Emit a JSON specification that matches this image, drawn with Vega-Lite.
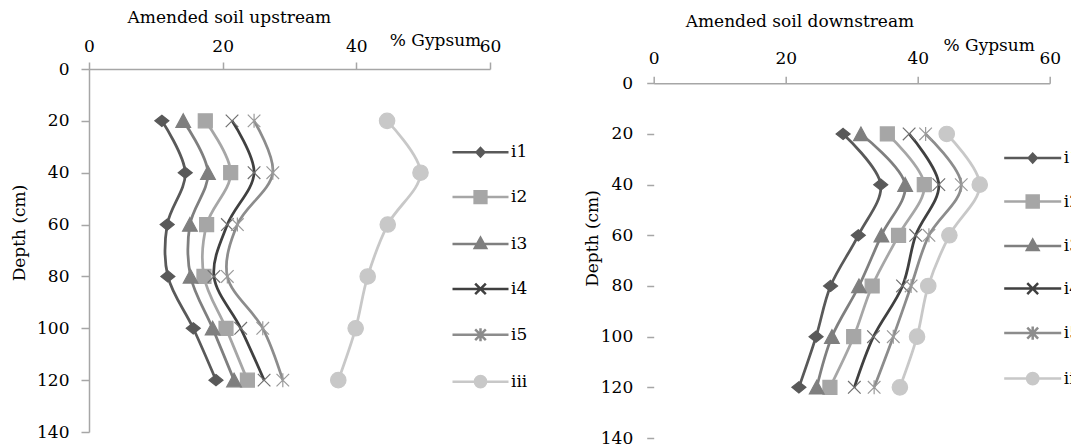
{
  "$schema": "https://vega.github.io/schema/vega-lite/v6.json",
  "background": "white",
  "padding": {"left": 10, "top": 9, "right": 0, "bottom": 0},
  "spacing": 163.7,
  "bounds": "flush",
  "config": {
    "font": "DejaVu Serif",
    "view": {"stroke": null},
    "axis": {
      "domainColor": "#a6a6a6", "domainWidth": 1.5, "tickColor": "#a6a6a6", "tickWidth": 1.5,
      "tickSize": 7, "grid": false, "labelFont": "DejaVu Serif", "labelFontSize": 17,
      "labelColor": "#000000", "titleFont": "DejaVu Serif", "titleFontSize": 17,
      "titleFontWeight": "normal", "titleColor": "#000000", "labelFlush": false, "labelOverlap": false
    },
    "title": {"font": "DejaVu Serif", "fontSize": 17, "fontWeight": "normal", "color": "#000000"},
    "legend": {"labelFont": "DejaVu Serif", "labelFontSize": 17, "labelColor": "#000000"}
  },
  "datasets": {
    "up": [
      {"series": "i1", "depth": 20, "pct": 10.9}, {"series": "i1", "depth": 40, "pct": 14.4}, {"series": "i1", "depth": 60, "pct": 11.7}, {"series": "i1", "depth": 80, "pct": 11.8}, {"series": "i1", "depth": 100, "pct": 15.6}, {"series": "i1", "depth": 120, "pct": 19.0},
      {"series": "i2", "depth": 20, "pct": 17.4}, {"series": "i2", "depth": 40, "pct": 21.2}, {"series": "i2", "depth": 60, "pct": 17.6}, {"series": "i2", "depth": 80, "pct": 17.2}, {"series": "i2", "depth": 100, "pct": 20.5}, {"series": "i2", "depth": 120, "pct": 23.7},
      {"series": "i3", "depth": 20, "pct": 14.1}, {"series": "i3", "depth": 40, "pct": 17.8}, {"series": "i3", "depth": 60, "pct": 15.1}, {"series": "i3", "depth": 80, "pct": 15.2}, {"series": "i3", "depth": 100, "pct": 18.5}, {"series": "i3", "depth": 120, "pct": 21.7},
      {"series": "i4", "depth": 20, "pct": 21.4}, {"series": "i4", "depth": 40, "pct": 24.7}, {"series": "i4", "depth": 60, "pct": 20.7}, {"series": "i4", "depth": 80, "pct": 18.7}, {"series": "i4", "depth": 100, "pct": 22.7}, {"series": "i4", "depth": 120, "pct": 26.2},
      {"series": "i5", "depth": 20, "pct": 24.7}, {"series": "i5", "depth": 40, "pct": 27.5}, {"series": "i5", "depth": 60, "pct": 22.2}, {"series": "i5", "depth": 80, "pct": 20.7}, {"series": "i5", "depth": 100, "pct": 26.0}, {"series": "i5", "depth": 120, "pct": 29.0},
      {"series": "iii", "depth": 20, "pct": 44.6}, {"series": "iii", "depth": 40, "pct": 49.6}, {"series": "iii", "depth": 60, "pct": 44.7}, {"series": "iii", "depth": 80, "pct": 41.7}, {"series": "iii", "depth": 100, "pct": 39.9}, {"series": "iii", "depth": 120, "pct": 37.3}
    ],
    "down": [
      {"series": "i1", "depth": 20, "pct": 28.7}, {"series": "i1", "depth": 40, "pct": 34.4}, {"series": "i1", "depth": 60, "pct": 31.0}, {"series": "i1", "depth": 80, "pct": 26.8}, {"series": "i1", "depth": 100, "pct": 24.6}, {"series": "i1", "depth": 120, "pct": 22.0},
      {"series": "i2", "depth": 20, "pct": 35.4}, {"series": "i2", "depth": 40, "pct": 41.0}, {"series": "i2", "depth": 60, "pct": 37.1}, {"series": "i2", "depth": 80, "pct": 33.1}, {"series": "i2", "depth": 100, "pct": 30.3}, {"series": "i2", "depth": 120, "pct": 26.7},
      {"series": "i3", "depth": 20, "pct": 31.4}, {"series": "i3", "depth": 40, "pct": 38.1}, {"series": "i3", "depth": 60, "pct": 34.5}, {"series": "i3", "depth": 80, "pct": 31.1}, {"series": "i3", "depth": 100, "pct": 27.0}, {"series": "i3", "depth": 120, "pct": 24.7},
      {"series": "i4", "depth": 20, "pct": 38.7}, {"series": "i4", "depth": 40, "pct": 43.2}, {"series": "i4", "depth": 60, "pct": 39.7}, {"series": "i4", "depth": 80, "pct": 37.7}, {"series": "i4", "depth": 100, "pct": 33.3}, {"series": "i4", "depth": 120, "pct": 30.4},
      {"series": "i5", "depth": 20, "pct": 41.2}, {"series": "i5", "depth": 40, "pct": 46.6}, {"series": "i5", "depth": 60, "pct": 41.7}, {"series": "i5", "depth": 80, "pct": 39.0}, {"series": "i5", "depth": 100, "pct": 36.3}, {"series": "i5", "depth": 120, "pct": 33.4},
      {"series": "iii", "depth": 20, "pct": 44.4}, {"series": "iii", "depth": 40, "pct": 49.4}, {"series": "iii", "depth": 60, "pct": 44.8}, {"series": "iii", "depth": 80, "pct": 41.6}, {"series": "iii", "depth": 100, "pct": 39.9}, {"series": "iii", "depth": 120, "pct": 37.3}
    ]
  },
  "hconcat": [
    {
      "width": 401,
      "height": 363,
      "data": {"name": "up"},
      "title": {"text": "Amended  soil upstream", "anchor": "start", "frame": "group", "dx": 38.5, "offset": 4},
      "encoding": {
        "x": {"field": "pct", "type": "quantitative", "scale": {"domain": [0, 60], "nice": false},
          "axis": {"orient": "top", "values": [0, 20, 40, 60], "title": "% Gypsum", "labelPadding": 7,
            "titleX": 346, "titleY": -24, "titleAlign": "center", "titleBaseline": "alphabetic"}},
        "y": {"field": "depth", "type": "quantitative", "scale": {"domain": [0, 140], "reverse": true, "nice": false},
          "axis": {"values": [0, 20, 40, 60, 80, 100, 120, 140], "title": "Depth (cm)", "tickSize": 8, "labelPadding": 12,
            "titleX": -61, "titleY": 163.5, "titleAlign": "center"}}
      },
      "layer": [
        {"mark": {"type": "line", "interpolate": "catmull-rom", "strokeWidth": 2.75},
          "encoding": {
            "order": {"field": "depth", "type": "quantitative"},
            "color": {"field": "series", "type": "nominal", "legend": null,
              "scale": {"domain": ["i1", "i2", "i3", "i4", "i5", "iii"], "range": ["#595959", "#a6a6a6", "#7f7f7f", "#404040", "#8c8c8c", "#c8c8c8"]}}
          }},
        {"mark": {"type": "point", "filled": true, "size": 196, "strokeWidth": 1.2, "opacity": 1},
          "encoding": {
            "color": {"field": "series", "type": "nominal", "legend": null,
              "scale": {"domain": ["i1", "i2", "i3", "i4", "i5", "iii"], "range": ["#595959", "#a6a6a6", "#7f7f7f", "#404040", "#8c8c8c", "#c8c8c8"]}},
            "shape": {"field": "series", "type": "nominal", "legend": null,
              "scale": {"domain": ["i1", "i2", "i3", "i4", "i5", "iii"],
                "range": ["M0,-0.8L1,0L0,0.8L-1,0Z", "M-1,-1H1V1H-1Z", "M0,-1L1.05,0.95H-1.05Z", "M-0.9,-0.9L0.9,0.9M-0.9,0.9L0.9,-0.9", "M-0.9,-0.9L0.9,0.9M-0.9,0.9L0.9,-0.9M0,-1V1", "M1.1,0A1.1,1.1,0,1,1,-1.1,0A1.1,1.1,0,1,1,1.1,0Z"]}},
            "stroke": {"field": "series", "type": "nominal", "legend": null,
              "scale": {"domain": ["i1", "i2", "i3", "i4", "i5", "iii"], "range": ["#595959", "#a6a6a6", "#7f7f7f", "#707070", "#9a9a9a", "#c8c8c8"]}}
          }},
        {"transform": [{"filter": "datum.depth < 0"}],
          "mark": {"type": "point", "filled": true, "opacity": 1},
          "encoding": {
            "color": {"field": "series", "type": "nominal",
              "scale": {"domain": ["i1", "i2", "i3", "i4", "i5", "iii"], "range": ["#595959", "#a6a6a6", "#7f7f7f", "#404040", "#8c8c8c", "#c8c8c8"]},
              "legend": {"orient": "none", "legendX": 362, "legendY": 53.7, "title": null, "symbolSize": 3136, "symbolStrokeWidth": 2.5, "labelOffset": 1, "rowPadding": 5.9, "labelFontSize": 17, "symbolOpacity": 1}},
            "stroke": {"field": "series", "type": "nominal",
              "scale": {"domain": ["i1", "i2", "i3", "i4", "i5", "iii"], "range": ["#595959", "#a6a6a6", "#7f7f7f", "#404040", "#8c8c8c", "#c8c8c8"]},
              "legend": {"orient": "none", "legendX": 362, "legendY": 53.7, "title": null, "symbolSize": 3136, "symbolStrokeWidth": 2.5, "labelOffset": 1, "rowPadding": 5.9, "labelFontSize": 17, "symbolOpacity": 1}},
            "shape": {"field": "series", "type": "nominal",
              "scale": {"domain": ["i1", "i2", "i3", "i4", "i5", "iii"],
                "range": ["M-1,0H1M0,-0.15L0.14,0L0,0.15L-0.14,0Z", "M-1,0H1M-0.21,-0.21H0.21V0.21H-0.21Z", "M-1,0H1M0,-0.22L0.2,0.14H-0.2Z", "M-1,0H1M-0.19,-0.19L0.19,0.19M-0.19,0.19L0.19,-0.19", "M-1,0H1M-0.19,-0.19L0.19,0.19M-0.19,0.19L0.19,-0.19M0,-0.23V0.23", "M-1,0H1M0.2,0A0.2,0.2,0,1,1,-0.2,0A0.2,0.2,0,1,1,0.2,0Z"]},
              "legend": {"orient": "none", "legendX": 362, "legendY": 53.7, "title": null, "symbolSize": 3136, "symbolStrokeWidth": 2.5, "labelOffset": 1, "rowPadding": 5.9, "labelFontSize": 17, "symbolOpacity": 1}}
          }}
      ],
      "resolve": {"scale": {"color": "independent", "stroke": "independent", "shape": "independent"}}
    },
    {
      "width": 396,
      "height": 369,
      "data": {"name": "down"},
      "title": {"text": "Amended  soil downstream", "anchor": "start", "frame": "group", "dx": 32, "offset": 5},
      "encoding": {
        "x": {"field": "pct", "type": "quantitative", "scale": {"domain": [0, 60], "nice": false},
          "axis": {"orient": "top", "offset": -14.3, "values": [0, 20, 40, 60], "title": "% Gypsum", "labelPadding": 9,
            "titleX": 335, "titleY": -33.3, "titleAlign": "center", "titleBaseline": "alphabetic"}},
        "y": {"field": "depth", "type": "quantitative", "scale": {"domain": [-5.64, 140], "reverse": true, "nice": false, "zero": false},
          "axis": {"values": [0, 20, 40, 60, 80, 100, 120, 140], "title": "Depth (cm)", "domain": false, "tickSize": 7, "labelPadding": 14,
            "titleX": -52.7, "titleY": 169, "titleAlign": "center"}}
      },
      "layer": [
        {"data": {"values": [{}]},
          "mark": {"type": "rule", "color": "#a6a6a6", "strokeWidth": 1.5},
          "encoding": {"x": {"datum": 0}, "y": {"datum": 0}, "y2": {"datum": 140}}},
        {"mark": {"type": "line", "interpolate": "catmull-rom", "strokeWidth": 2.75},
          "encoding": {
            "order": {"field": "depth", "type": "quantitative"},
            "color": {"field": "series", "type": "nominal", "legend": null,
              "scale": {"domain": ["i1", "i2", "i3", "i4", "i5", "iii"], "range": ["#595959", "#a6a6a6", "#7f7f7f", "#404040", "#8c8c8c", "#c8c8c8"]}}
          }},
        {"mark": {"type": "point", "filled": true, "size": 196, "strokeWidth": 1.2, "opacity": 1},
          "encoding": {
            "color": {"field": "series", "type": "nominal", "legend": null,
              "scale": {"domain": ["i1", "i2", "i3", "i4", "i5", "iii"], "range": ["#595959", "#a6a6a6", "#7f7f7f", "#404040", "#8c8c8c", "#c8c8c8"]}},
            "shape": {"field": "series", "type": "nominal", "legend": null,
              "scale": {"domain": ["i1", "i2", "i3", "i4", "i5", "iii"],
                "range": ["M0,-0.8L1,0L0,0.8L-1,0Z", "M-1,-1H1V1H-1Z", "M0,-1L1.05,0.95H-1.05Z", "M-0.9,-0.9L0.9,0.9M-0.9,0.9L0.9,-0.9", "M-0.9,-0.9L0.9,0.9M-0.9,0.9L0.9,-0.9M0,-1V1", "M1.1,0A1.1,1.1,0,1,1,-1.1,0A1.1,1.1,0,1,1,1.1,0Z"]}},
            "stroke": {"field": "series", "type": "nominal", "legend": null,
              "scale": {"domain": ["i1", "i2", "i3", "i4", "i5", "iii"], "range": ["#595959", "#a6a6a6", "#7f7f7f", "#707070", "#9a9a9a", "#c8c8c8"]}}
          }},
        {"transform": [{"filter": "datum.depth < 0"}],
          "mark": {"type": "point", "filled": true, "opacity": 1},
          "encoding": {
            "color": {"field": "series", "type": "nominal",
              "scale": {"domain": ["i1", "i2", "i3", "i4", "i5", "iii"], "range": ["#595959", "#a6a6a6", "#7f7f7f", "#404040", "#8c8c8c", "#c8c8c8"]},
              "legend": {"orient": "none", "legendX": 349, "legendY": 59.1, "title": null, "symbolSize": 3249, "symbolStrokeWidth": 2.5, "labelOffset": 1, "rowPadding": 3.5, "labelFontSize": 17, "symbolOpacity": 1}},
            "stroke": {"field": "series", "type": "nominal",
              "scale": {"domain": ["i1", "i2", "i3", "i4", "i5", "iii"], "range": ["#595959", "#a6a6a6", "#7f7f7f", "#404040", "#8c8c8c", "#c8c8c8"]},
              "legend": {"orient": "none", "legendX": 349, "legendY": 59.1, "title": null, "symbolSize": 3249, "symbolStrokeWidth": 2.5, "labelOffset": 1, "rowPadding": 3.5, "labelFontSize": 17, "symbolOpacity": 1}},
            "shape": {"field": "series", "type": "nominal",
              "scale": {"domain": ["i1", "i2", "i3", "i4", "i5", "iii"],
                "range": ["M-1,0H1M0,-0.15L0.14,0L0,0.15L-0.14,0Z", "M-1,0H1M-0.21,-0.21H0.21V0.21H-0.21Z", "M-1,0H1M0,-0.22L0.2,0.14H-0.2Z", "M-1,0H1M-0.19,-0.19L0.19,0.19M-0.19,0.19L0.19,-0.19", "M-1,0H1M-0.19,-0.19L0.19,0.19M-0.19,0.19L0.19,-0.19M0,-0.23V0.23", "M-1,0H1M0.2,0A0.2,0.2,0,1,1,-0.2,0A0.2,0.2,0,1,1,0.2,0Z"]},
              "legend": {"orient": "none", "legendX": 349, "legendY": 59.1, "title": null, "symbolSize": 3249, "symbolStrokeWidth": 2.5, "labelOffset": 1, "rowPadding": 3.5, "labelFontSize": 17, "symbolOpacity": 1}}
          }}
      ],
      "resolve": {"scale": {"color": "independent", "stroke": "independent", "shape": "independent"}}
    }
  ],
  "resolve": {
    "scale": {"x": "independent", "y": "independent", "color": "independent", "shape": "independent", "stroke": "independent"},
    "legend": {"color": "independent", "shape": "independent", "stroke": "independent"}
  }
}
